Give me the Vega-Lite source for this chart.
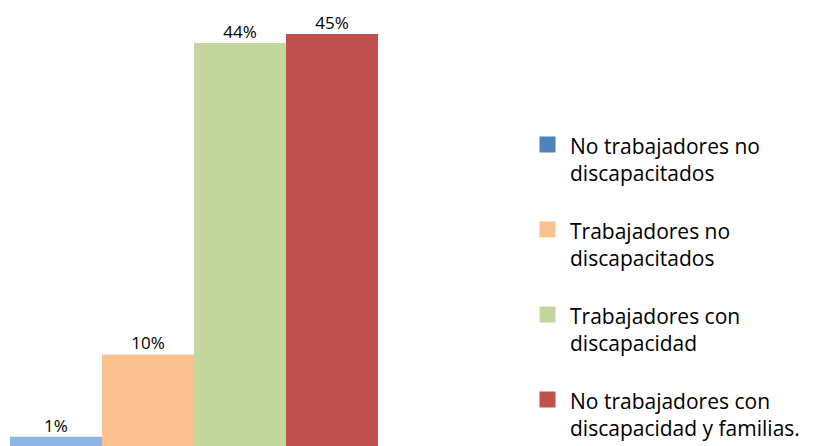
{
  "$schema": "https://vega.github.io/schema/vega-lite/v6.json",
  "width": 368,
  "height": 446,
  "autosize": {"type": "none"},
  "padding": {"left": 10, "top": 0, "right": 455, "bottom": 0},
  "background": "white",
  "config": {"view": {"stroke": null}, "font": "Open Sans"},
  "data": {
    "values": [
      {"cat": "No trabajadores no discapacitados", "value": 0.01},
      {"cat": "Trabajadores no discapacitados", "value": 0.10},
      {"cat": "Trabajadores con discapacidad", "value": 0.44},
      {"cat": "No trabajadores con discapacidad y familias.", "value": 0.45}
    ]
  },
  "encoding": {
    "x": {
      "field": "cat",
      "type": "nominal",
      "sort": null,
      "axis": null,
      "scale": {"paddingInner": 0, "paddingOuter": 0}
    },
    "y": {
      "field": "value",
      "type": "quantitative",
      "axis": null,
      "scale": {"domain": [0, 0.487], "nice": false}
    }
  },
  "layer": [
    {
      "mark": {"type": "bar"},
      "encoding": {
        "color": {
          "condition": {"test": "datum.cat === 'No trabajadores no discapacitados'", "value": "#8DB4E2"},
          "field": "cat",
          "type": "nominal",
          "sort": null,
          "scale": {
            "domain": ["No trabajadores no discapacitados", "Trabajadores no discapacitados", "Trabajadores con discapacidad", "No trabajadores con discapacidad y familias."],
            "range": ["#4F81BD", "#FAC090", "#C3D69B", "#C0504D"]
          },
          "legend": {
            "title": null,
            "orient": "none",
            "legendX": 527,
            "legendY": 134,
            "symbolType": "square",
            "symbolSize": 256,
            "symbolStrokeWidth": 0,
            "labelFontSize": 21,
            "labelFont": "Open Sans",
            "labelColor": "#000000",
            "labelOffset": 12,
            "labelLimit": 400,
            "rowPadding": 34,
            "labelBaseline": "top",
            "labelExpr": "[slice(datum.label, 0, indexof(datum.label, ' discap')), slice(datum.label, indexof(datum.label, ' discap') + 1)]",
            "encode": {"labels": {"update": {"dy": {"value": -8}, "lineHeight": {"value": 27}}}}
          }
        }
      }
    },
    {
      "mark": {"type": "text", "baseline": "alphabetic", "dy": -5, "fontSize": 17, "font": "Open Sans", "color": "#000000"},
      "encoding": {
        "text": {"field": "value", "type": "quantitative", "format": ".0%"}
      }
    }
  ]
}
